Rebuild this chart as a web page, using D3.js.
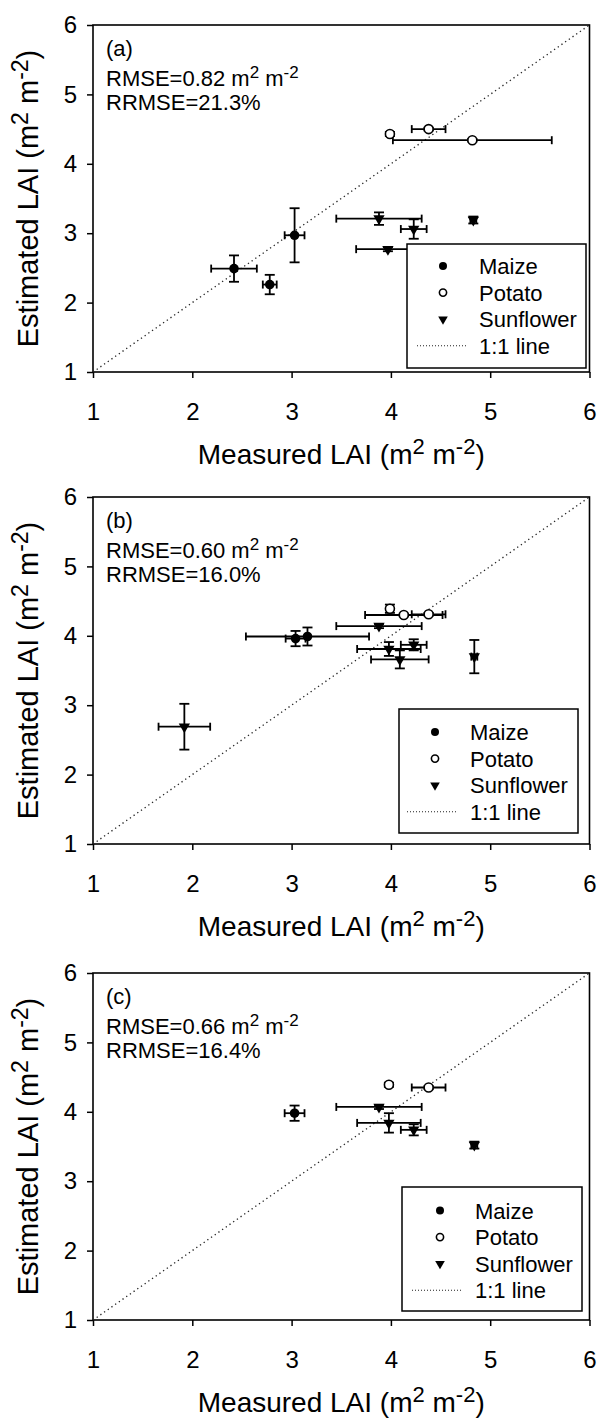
<!DOCTYPE html>
<html>
<head>
<meta charset="utf-8">
<script src="https://cdn.jsdelivr.net/npm/d3@7"></script>
<style>
  body { margin: 0; background: #fff; }
  svg { display: block; font-family: "Liberation Sans", Arial, sans-serif; }
</style>
</head>
<body>
<svg id="chart" width="597" height="1419"></svg>
<script>
// panel labels and stats
const panelLabels = ["(a)", "(b)", "(c)"];
const rmseValues = ["0.82", "0.60", "0.66"];
const rrmseValues = ["21.3%", "16.0%", "16.4%"];
const tickValues = [1, 2, 3, 4, 5, 6];
const seriesNames = ["Maize", "Potato", "Sunflower"];

// each point: [measured, estimated, measured err, estimated err]
const maizeA = [[2.42, 2.49, 0.23, 0.19], [2.78, 2.26, 0.07, 0.14], [3.03, 2.97, 0.10, 0.39]];
const potatoA = [[3.99, 4.43, 0.02, 0.03], [4.38, 4.50, 0.17, 0.02], [4.82, 4.34, 0.80, 0.02]];
const sunflowerA = [[3.88, 3.21, 0.43, 0.09], [4.23, 3.06, 0.13, 0.14], [3.97, 2.77, 0.32, 0.03], [4.83, 3.19, 0.03, 0.05]];

const maizeB = [[3.04, 3.96, 0.10, 0.11], [3.16, 3.99, 0.62, 0.13]];
const potatoB = [[3.99, 4.39, 0.02, 0.06], [4.13, 4.30, 0.39, 0.02], [4.38, 4.31, 0.17, 0.02]];
const sunflowerB = [[3.88, 4.14, 0.43, 0.03], [3.98, 3.81, 0.32, 0.10], [4.23, 3.87, 0.13, 0.08],
                    [4.09, 3.66, 0.29, 0.13], [4.84, 3.70, 0.03, 0.24], [1.92, 2.69, 0.26, 0.33]];

const maizeC = [[3.03, 3.98, 0.10, 0.11]];
const potatoC = [[3.98, 4.39, 0.02, 0.03], [4.38, 4.35, 0.17, 0.02]];
const sunflowerC = [[3.88, 4.07, 0.43, 0.03], [3.98, 3.84, 0.32, 0.14], [4.23, 3.74, 0.13, 0.08], [4.84, 3.52, 0.03, 0.05]];

const panelData = [
  [maizeA, potatoA, sunflowerA],
  [maizeB, potatoB, sunflowerB],
  [maizeC, potatoC, sunflowerC]
];

// layout
const left = 93, right = 589.5, plotH = 347;
const panelTop = [25, 497, 973];
const legendBox = [
  {x: 407, y: 219, w: 179, h: 124, mx: 443, tx: 479, row: 241, lx: 417},
  {x: 399, y: 212, w: 179, h: 124, mx: 435, tx: 470, row: 235, lx: 407},
  {x: 402, y: 214, w: 180, h: 124, mx: 440, tx: 475, row: 237.5, lx: 412}
];

const svg = d3.select("#chart");
svg.append("rect").attr("width", 597).attr("height", 1419).attr("fill", "#fff");

const xScale = d3.scaleLinear().domain([1, 6]).range([left, right]);

function supText(sel, parts, baseSize, supSize, shift) {
  // parts: [text, isSup]
  let raised = false;
  parts.forEach(p => {
    const t = sel.append("tspan").text(p[0]);
    if (p[1] && !raised) { t.attr("dy", -shift).attr("font-size", supSize); raised = true; }
    else if (p[1]) { t.attr("font-size", supSize); }
    else if (!p[1] && raised) { t.attr("dy", shift).attr("font-size", baseSize); raised = false; }
  });
}

function drawMarker(g, kind, x, y, big) {
  if (kind === 0) {
    g.append("circle").attr("cx", x).attr("cy", y).attr("r", big ? 4.8 : 4)
      .attr("fill", "#000");
  } else if (kind === 1) {
    g.append("circle").attr("cx", x).attr("cy", y).attr("r", big ? 4.5 : 3.6)
      .attr("fill", "#fff").attr("stroke", "#000").attr("stroke-width", 1.6);
  } else {
    g.append("path").attr("d", d3.symbol(d3.symbolTriangle, big ? 55 : 40)())
      .attr("transform", `translate(${x},${y}) rotate(180)`)
      .attr("fill", "#000");
  }
}

panelData.forEach((series, p) => {
  const top = panelTop[p];
  const yScale = d3.scaleLinear().domain([1, 6]).range([top + plotH, top]);
  const g = svg.append("g");

  // axes
  const xAxis = g.append("g").attr("transform", `translate(0,${top + plotH})`)
    .call(d3.axisBottom(xScale).tickValues(tickValues).tickFormat(d3.format("d"))
      .tickSize(6).tickSizeOuter(0).tickPadding(25));
  const yAxis = g.append("g").attr("transform", `translate(${left},0)`)
    .call(d3.axisLeft(yScale).tickValues(tickValues).tickFormat(d3.format("d"))
      .tickSize(6).tickSizeOuter(0).tickPadding(10));
  [xAxis, yAxis].forEach(a => {
    a.select(".domain").remove();
    a.selectAll(".tick line").attr("stroke", "#000").attr("stroke-width", 1.5);
    a.selectAll(".tick text").attr("font-size", 24).attr("fill", "#000")
      .attr("font-family", "'Liberation Sans', Arial, sans-serif");
  });

  // box
  g.append("rect").attr("x", left).attr("y", top).attr("width", right - left).attr("height", plotH)
    .attr("fill", "none").attr("stroke", "#000").attr("stroke-width", 1.6);

  // 1:1 line
  g.append("path")
    .attr("d", d3.line().x(d => xScale(d)).y(d => yScale(d))([1, 6]))
    .attr("stroke", "#222").attr("stroke-width", 1.3).attr("stroke-dasharray", "1.3,3.2")
    .attr("fill", "none");

  // error bars
  series.forEach((pts) => {
    pts.forEach(d => {
      const cx = xScale(d[0]), cy = yScale(d[1]);
      const x0 = xScale(d[0] - d[2]), x1 = xScale(d[0] + d[2]);
      const y0 = yScale(d[1] - d[3]), y1 = yScale(d[1] + d[3]);
      const eb = g.append("g").attr("stroke", "#000").attr("stroke-width", 1.8);
      eb.append("line").attr("x1", x0).attr("x2", x1).attr("y1", cy).attr("y2", cy);
      eb.append("line").attr("x1", x0).attr("x2", x0).attr("y1", cy - 4).attr("y2", cy + 4);
      eb.append("line").attr("x1", x1).attr("x2", x1).attr("y1", cy - 4).attr("y2", cy + 4);
      eb.append("line").attr("x1", cx).attr("x2", cx).attr("y1", y0).attr("y2", y1);
      eb.append("line").attr("x1", cx - 5).attr("x2", cx + 5).attr("y1", y0).attr("y2", y0);
      eb.append("line").attr("x1", cx - 5).attr("x2", cx + 5).attr("y1", y1).attr("y2", y1);
    });
  });
  // markers
  series.forEach((pts, k) => {
    pts.forEach(d => drawMarker(g, k, xScale(d[0]), yScale(d[1]), true));
  });

  // panel texts
  g.append("text").attr("x", 106).attr("y", top + 31).attr("font-size", 22).text(panelLabels[p]);
  supText(g.append("text").attr("x", 106).attr("y", top + 61).attr("font-size", 22),
    [["RMSE=" + rmseValues[p] + " m", false], ["2", true], [" m", false], ["-2", true]], 22, 17, 8);
  g.append("text").attr("x", 106).attr("y", top + 85).attr("font-size", 22).text("RRMSE=" + rrmseValues[p]);

  // legend
  const lb = legendBox[p];
  const lg = g.append("g");
  lg.append("rect").attr("x", lb.x).attr("y", top + lb.y).attr("width", lb.w).attr("height", lb.h)
    .attr("fill", "#fff").attr("stroke", "#000").attr("stroke-width", 1.5);
  seriesNames.concat(["1:1 line"]).forEach((name, i) => {
    const ry = top + lb.row + i * 26.6;
    if (i < 3) drawMarker(lg, i, lb.mx, ry, false);
    else lg.append("line").attr("x1", lb.lx).attr("x2", lb.lx + 50).attr("y1", ry).attr("y2", ry)
      .attr("stroke", "#222").attr("stroke-width", 1.1).attr("stroke-dasharray", "1,2");
    lg.append("text").attr("x", lb.tx).attr("y", ry + 8).attr("font-size", 22).text(name);
  });

  // axis titles
  supText(g.append("text").attr("x", (left + right) / 2).attr("y", top + plotH + 92)
      .attr("text-anchor", "middle").attr("font-size", 28),
    [["Measured LAI (m", false], ["2", true], [" m", false], ["-2", true], [")", false]], 28, 22, 10);
  supText(g.append("text").attr("transform", `translate(38,${top + plotH / 2}) rotate(-90)`)
      .attr("text-anchor", "middle").attr("font-size", 29),
    [["Estimated LAI (m", false], ["2", true], [" m", false], ["-2", true], [")", false]], 29, 23, 10);
});
</script>
</body>
</html>
